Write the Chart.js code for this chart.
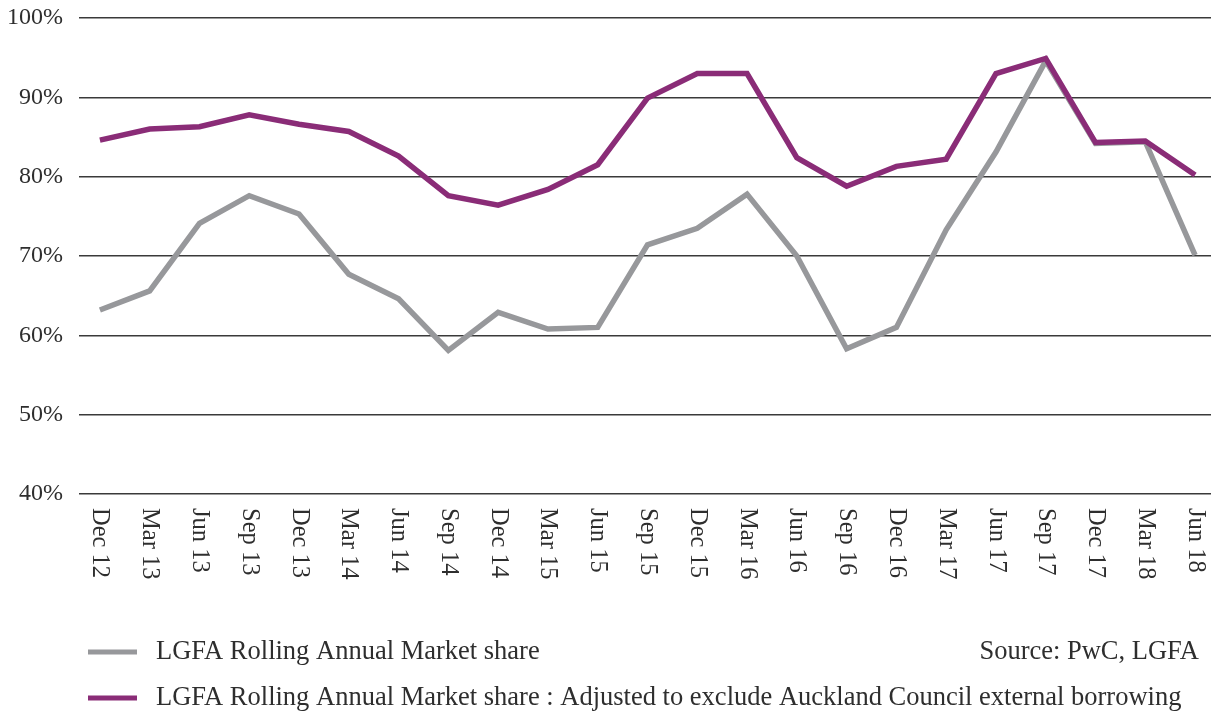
<!DOCTYPE html>
<html>
<head>
<meta charset="utf-8">
<script src="https://cdn.jsdelivr.net/npm/chart.js@4.4.0/dist/chart.umd.min.js"></script>
<style>
  html, body { margin: 0; padding: 0; background: #fff; overflow: hidden; }
  #wrap { width: 1211px; height: 713px; position: relative; }
</style>
</head>
<body>
<div id="wrap"><canvas id="chart"></canvas></div>
<script>
const quarters = ['Dec 12', 'Mar 13', 'Jun 13', 'Sep 13', 'Dec 13', 'Mar 14', 'Jun 14', 'Sep 14',
  'Dec 14', 'Mar 15', 'Jun 15', 'Sep 15', 'Dec 15', 'Mar 16', 'Jun 16', 'Sep 16', 'Dec 16',
  'Mar 17', 'Jun 17', 'Sep 17', 'Dec 17', 'Mar 18', 'Jun 18'];

const marketShare = [63.2, 65.6, 74.1, 77.6, 75.3, 67.7, 64.6, 58.1, 62.9, 60.8, 61.0, 71.4,
  73.5, 77.8, 70.0, 58.3, 61.0, 73.3, 83.1, 94.6, 84.2, 84.4, 70.1];

const adjustedShare = [84.6, 86.0, 86.3, 87.8, 86.6, 85.7, 82.6, 77.6, 76.4, 78.4, 81.5, 89.9,
  93.0, 93.0, 82.4, 78.8, 81.3, 82.2, 93.0, 94.9, 84.3, 84.5, 80.2];

const yTicks = [40, 50, 60, 70, 80, 90, 100];
const sourceNote = 'Source: PwC, LGFA';

const FONT = '"Liberation Serif", "DejaVu Serif", serif';
const TEXT = '#2e2e2e';

// x labels read top to bottom, so they are drawn here instead of by the axis
const quarterLabels = {
  id: 'quarterLabels',
  afterDraw(chart) {
    const ctx = chart.ctx;
    const x = chart.scales.x;
    ctx.save();
    ctx.font = '24.5px ' + FONT;
    ctx.fillStyle = TEXT;
    ctx.textAlign = 'left';
    ctx.textBaseline = 'middle';
    quarters.forEach((q, i) => {
      ctx.save();
      ctx.translate(x.getPixelForValue(i), 508);
      ctx.rotate(Math.PI / 2);
      ctx.fillText(q, 0, 0);
      ctx.restore();
    });
    ctx.restore();
  }
};

// legend rows + source line underneath
const bottomLegend = {
  id: 'bottomLegend',
  afterDraw(chart) {
    const ctx = chart.ctx;
    const rows = [652, 698];
    ctx.save();
    ctx.font = '26.5px ' + FONT;
    ctx.textBaseline = 'middle';
    chart.data.datasets.forEach((ds, i) => {
      const y = rows[i];
      ctx.fillStyle = ds.borderColor;
      ctx.fillRect(88, y - 2.5, 49, 5);
      ctx.fillStyle = TEXT;
      ctx.textAlign = 'left';
      ctx.fillText(ds.label, 156, y);
    });
    ctx.textAlign = 'right';
    ctx.fillText(sourceNote, 1199, rows[0]);
    ctx.restore();
  }
};

new Chart(document.getElementById('chart'), {
  type: 'line',
  data: {
    datasets: [{
      label: 'LGFA Rolling Annual Market share',
      data: marketShare.map((v, i) => ({ x: i, y: v })),
      borderColor: '#97989b',
      backgroundColor: '#97989b',
      borderWidth: 5.5,
      pointRadius: 0,
      tension: 0,
      order: 2
    }, {
      label: 'LGFA Rolling Annual Market share : Adjusted to exclude Auckland Council external borrowing',
      data: adjustedShare.map((v, i) => ({ x: i, y: v })),
      borderColor: '#8a2c77',
      backgroundColor: '#8a2c77',
      borderWidth: 5.5,
      pointRadius: 0,
      tension: 0,
      order: 1
    }]
  },
  options: {
    responsive: true,
    maintainAspectRatio: false,
    animation: false,
    layout: { padding: { top: 18, right: 0, bottom: 0, left: 0 } },
    plugins: {
      legend: { display: false },
      tooltip: { enabled: false }
    },
    scales: {
      x: {
        type: 'linear',
        min: -0.42,
        max: 22.32,
        afterBuildTicks(scale) {
          scale.ticks = quarters.map((q, i) => ({ value: i }));
        },
        afterFit(scale) {
          scale.height = 219;
          scale.paddingLeft = 0;
          scale.paddingRight = 0;
        },
        grid: { display: false },
        border: { display: false },
        ticks: { display: false }
      },
      y: {
        min: 40,
        max: 100,
        afterBuildTicks(scale) {
          scale.ticks = yTicks.map(v => ({ value: v }));
        },
        afterFit(scale) {
          scale.width = 79;
          scale.paddingTop = 0;
          scale.paddingBottom = 0;
        },
        grid: { color: '#3a3a3a', lineWidth: 1.5, drawTicks: false },
        border: { display: false },
        ticks: {
          padding: 16,
          color: TEXT,
          font: { family: FONT, size: 24 },
          callback: v => v + '%'
        }
      }
    }
  },
  plugins: [quarterLabels, bottomLegend]
});
</script>
</body>
</html>
